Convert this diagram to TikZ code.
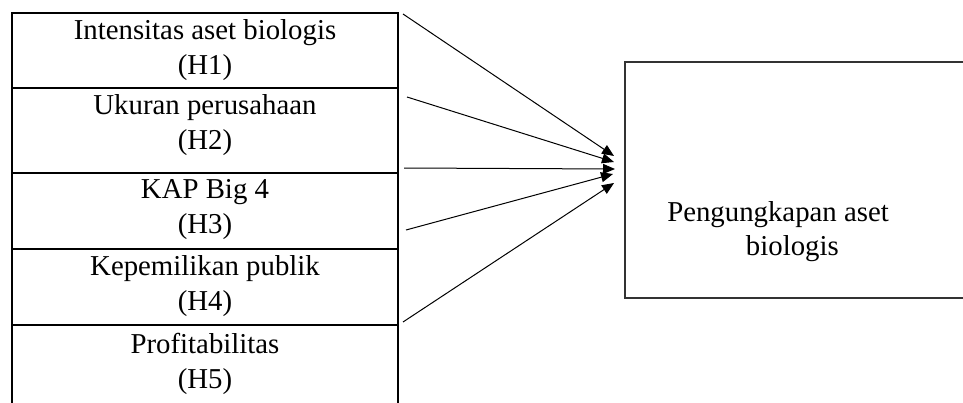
\documentclass[tikz,border=0pt]{standalone}
\usepackage{fontspec}
\setmainfont{Liberation Serif}
\usetikzlibrary{arrows.meta}
\begin{document}
\begin{tikzpicture}[x=0.75pt,y=-0.75pt,
  varbox/.style={draw=black, line width=1.5pt, rectangle, inner sep=0pt, minimum width=289.5pt},
  vartext/.style={anchor=north, inner sep=0pt, align=center, font=\fontsize{21.6pt}{26.5pt}\selectfont},
  depbox/.style={draw=black!80, line width=1.1pt, rectangle, inner sep=0pt},
  deptext/.style={anchor=north west, inner sep=0pt, align=left, font=\fontsize{21.6pt}{26pt}\selectfont},
  conn/.style={-{Triangle[length=9pt,width=7.5pt]}, line width=0.75pt}]
\fill[white] (0,0) rectangle (963,403);
\clip (0,0) rectangle (963,403);
% left column
\node[varbox, minimum height=56.25pt] (b1) at (205,50.5) {};
\node[varbox, minimum height=63.75pt] (b2) at (205,130.5) {};
\node[varbox, minimum height=57pt] (b3) at (205,211) {};
\node[varbox, minimum height=57pt] (b4) at (205,287) {};
\node[varbox, minimum height=75pt] (b5) at (205,375) {};
\node[vartext] (t1) at (205,19) {Intensitas aset biologis\\(H1)};
\node[vartext] (t2) at (205,94) {Ukuran perusahaan\\(H2)};
\node[vartext] (t3) at (205,179) {KAP Big 4\\(H3)};
\node[vartext] (t4) at (205,255) {Kepemilikan publik\\(H4)};
\node[vartext] (t5) at (205,333) {Profitabilitas\\(H5)};
% right box
\node[depbox, minimum width=262.5pt, minimum height=177pt] (dep) at (800,180) {};
\node[deptext] (dt) at (667,201) {Pengungkapan aset\\\hspace*{59pt}biologis};
% connector ends
\coordinate (s1) at (403,14);
\coordinate (s2) at (407,97);
\coordinate (s3) at (404,168);
\coordinate (s4) at (406,230);
\coordinate (s5) at (403,322);
\coordinate (e1) at (614,156);
\coordinate (e2) at (614,162);
\coordinate (e3) at (615,169);
\coordinate (e4) at (613,174);
\coordinate (e5) at (614,183);
\draw[conn] (s1) -- (e1);
\draw[conn] (s2) -- (e2);
\draw[conn] (s3) -- (e3);
\draw[conn] (s4) -- (e4);
\draw[conn] (s5) -- (e5);
\end{tikzpicture}
\end{document}
